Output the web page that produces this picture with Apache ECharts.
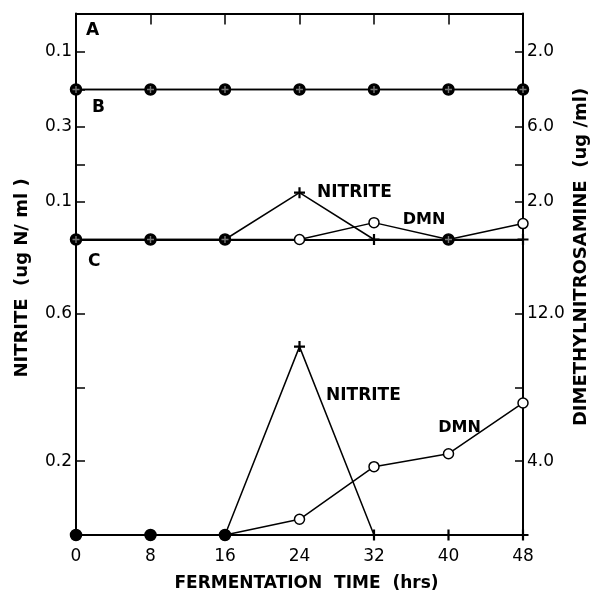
<!DOCTYPE html>
<html><head><meta charset="utf-8">
<script src="https://cdn.jsdelivr.net/npm/echarts@6/dist/echarts.min.js"></script>
<style>html,body{margin:0;padding:0;background:#fff}#c{width:592px;height:597px}</style>
</head><body><div id="c"></div>
<script>
// ---- data ----
const hours = [0, 8, 16, 24, 32, 40, 48];
const nitriteA = [0, 0, 0, 0, 0, 0, 0];
const dmnA     = [0, 0, 0, 0, 0, 0, 0];
const nitriteB = [0, 0, 0, 0.125, 0, 0, 0];
const dmnB     = [0, 0, 0, 0, 0.9, 0, 0.85];
const nitriteC = [0, 0, 0, 0.51, 0, 0, 0];
const dmnC     = [0, 0, 0, 0.85, 3.7, 4.4, 7.15];
const leftLabelsA = ['0.1'];
const leftLabelsB = ['0.1', '0.3'];
const leftLabelsC = ['0.2', '0.6'];
const rightLabelsA = ['2.0'];
const rightLabelsB = ['2.0', '6.0'];
const rightLabelsC = ['4.0', '12.0'];
const xTickLabels = ['0', '8', '16', '24', '32', '40', '48'];
const panelNames = ['A', 'B', 'C'];
const xTitle = 'FERMENTATION  TIME  (hrs)';
const leftTitle = 'NITRITE  (ug N/ ml )';
const rightTitle = 'DIMETHYLNITROSAMINE  (ug /ml)';

const FONT = 'DejaVu Sans';
const chart = echarts.init(document.getElementById('c'), null, {renderer: 'canvas'});
const PLUS = 'path://M4,0H6V4H10V6H6V10H4V6H0V4H4Z';

const grids = [
  {left: 76, right: 69, top: 13.5, height: 76},
  {left: 76, right: 69, top: 89.5, height: 150},
  {left: 76, right: 69, top: 239.5, height: 300}
];
const axLine = {show: true, onZero: false, lineStyle: {color: '#000', width: 2}};

function xAxis(i) {
  const base = {gridIndex: i, type: 'value', min: 0, max: 48, interval: 8,
    splitLine: {show: false}, axisLine: axLine, axisTick: {show: false}, axisLabel: {show: false}};
  if (i === 0) {
    Object.assign(base, {position: 'top', axisTick: {show: true, inside: true, length: 11, lineStyle: {color: '#000', width: 1.5}}});
  }
  if (i === 2) {
    Object.assign(base, {axisLabel: {show: true, color: '#000', fontFamily: FONT, fontSize: 17, margin: 13,
      formatter: v => xTickLabels[hours.indexOf(v)] || ''},
      name: xTitle, nameLocation: 'middle', nameGap: 40,
      nameTextStyle: {color: '#000', fontFamily: FONT, fontSize: 17, fontWeight: 'bold', padding: [0, 0, 0, 14]}});
  }
  return base;
}
function yAxis(i, side, max, interval, labels) {
  return {gridIndex: i, type: 'value', position: side, min: 0, max: max, interval: interval,
    splitLine: {show: false}, axisLine: axLine,
    axisTick: {show: true, inside: true, length: side === 'left' ? 9 : 8, lineStyle: {color: '#000', width: 1.5}},
    axisLabel: {color: '#000', fontFamily: FONT, fontSize: 17, margin: 4, showMinLabel: true, showMaxLabel: true,
      formatter: v => { const s = (+v).toFixed(1); return labels.indexOf(s) >= 0 ? s : ''; }}};
}

const lblBase = {show: true, color: '#000', fontFamily: FONT, fontSize: 17, fontWeight: 'bold'};
function mkNitrite(gi, arr, other, cross, lbl) {
  return {type: 'line', xAxisIndex: gi, yAxisIndex: gi * 2, z: 4, clip: false,
    symbol: PLUS, symbolSize: 11, lineStyle: {color: '#000', width: 1.5},
    itemStyle: {color: '#000'},
    data: arr.map((v, k) => {
      const d = {value: [hours[k], v]};
      if (cross && v === 0 && other[k] === 0) { d.symbolSize = 7; d.itemStyle = {color: '#777'}; }
      if (lbl && lbl.index === k) d.label = Object.assign({formatter: lbl.text}, lblBase, lbl.opts);
      return d;
    })};
}
function mkDmn(gi, arr, other, lbl) {
  return {type: 'line', xAxisIndex: gi, yAxisIndex: gi * 2 + 1, z: 3, clip: false,
    symbol: 'circle', symbolSize: 10, lineStyle: {color: '#000', width: 1.5},
    itemStyle: {color: '#fff', borderColor: '#000', borderWidth: 1.5},
    data: arr.map((v, k) => {
      const d = {value: [hours[k], v]};
      if (v === 0 && other[k] === 0) { d.symbolSize = 11; d.itemStyle = {color: '#000', borderColor: '#000'}; }
      if (lbl && lbl.index === k) d.label = Object.assign({formatter: lbl.text}, lblBase, lbl.opts);
      return d;
    })};
}

const ytxt = {fontFamily: FONT, fontSize: 17, fontWeight: 'bold', fill: '#000'};
const ttxt = {fontFamily: FONT, fontSize: 18, fontWeight: 'bold', fill: '#000'};
chart.setOption({
  animation: false,
  grid: grids,
  xAxis: [xAxis(0), xAxis(1), xAxis(2)],
  yAxis: [
    yAxis(0, 'left', 0.2, 0.1, leftLabelsA), yAxis(0, 'right', 4, 2, rightLabelsA),
    yAxis(1, 'left', 0.4, 0.1, leftLabelsB), yAxis(1, 'right', 8, 2, rightLabelsB),
    yAxis(2, 'left', 0.8, 0.2, leftLabelsC), yAxis(2, 'right', 16, 4, rightLabelsC)
  ],
  series: [
    mkDmn(0, dmnA, nitriteA), mkNitrite(0, nitriteA, dmnA, true),
    mkDmn(1, dmnB, nitriteB, {index: 4, text: 'DMN', opts: {position: 'right', distance: 23, offset: [0, -3], fontSize: 16}}),
    mkNitrite(1, nitriteB, dmnB, true, {index: 3, text: 'NITRITE', opts: {position: 'right', distance: 12}}),
    mkDmn(2, dmnC, nitriteC, {index: 5, text: 'DMN', opts: {position: 'top', distance: 12, offset: [11, 0], fontSize: 16}}),
    mkNitrite(2, nitriteC, dmnC, false, {index: 3, text: 'NITRITE', opts: {position: 'right', distance: 0, offset: [21, 49]}})
  ],
  graphic: [
    {type: 'text', left: 86, top: 22, style: Object.assign({text: panelNames[0]}, ytxt)},
    {type: 'text', left: 92, top: 99, style: Object.assign({text: panelNames[1]}, ytxt)},
    {type: 'text', left: 88, top: 253, style: Object.assign({text: panelNames[2]}, ytxt)},
    {type: 'text', x: 22, y: 278, rotation: Math.PI / 2,
      style: Object.assign({text: leftTitle, align: 'center', verticalAlign: 'middle'}, ttxt)},
    {type: 'text', x: 581, y: 257, rotation: Math.PI / 2,
      style: Object.assign({text: rightTitle, align: 'center', verticalAlign: 'middle'}, ttxt)}
  ]
});
</script></body></html>
